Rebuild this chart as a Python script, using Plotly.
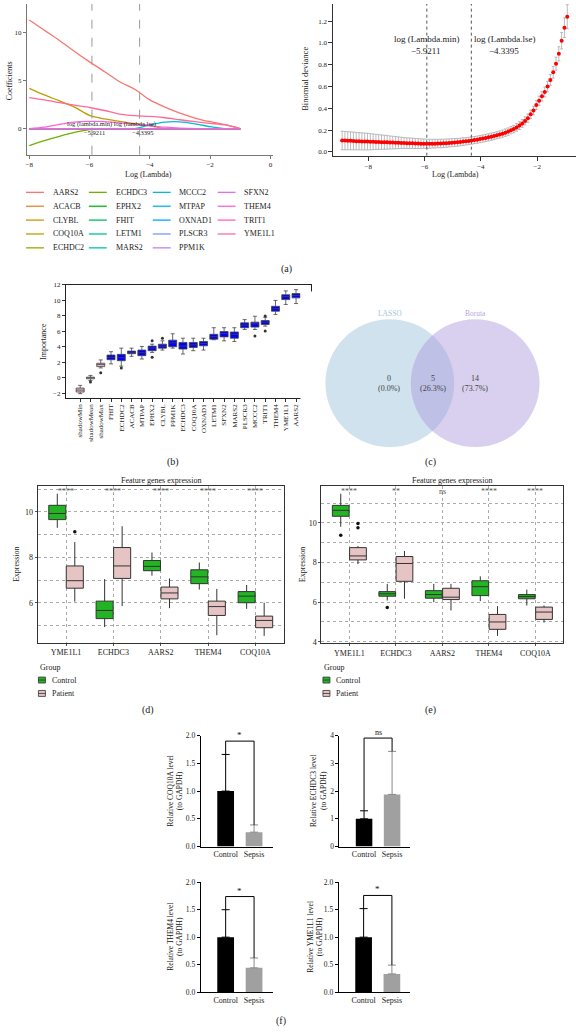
import math
import plotly.graph_objects as go

W, H = 576, 1033
FONT = "Liberation Serif"
TXT = "#222222"

# ---------------- (a) LASSO coefficient paths ----------------
genes = ["AARS2", "ACACB", "CLYBL", "COQ10A", "ECHDC2", "ECHDC3", "EPHX2", "FHIT",
         "LETM1", "MARS2", "MCCC2", "MTPAP", "OXNAD1", "PLSCR3", "PPM1K", "SFXN2",
         "THEM4", "TRIT1", "YME1L1"]
path_loglambda = [-8.0, -7.5, -7.0, -6.5, -6.0, -5.5, -5.0, -4.5, -4.0, -3.5, -3.0, -2.5, -2.0, -1.5, -1.0]
coef_AARS2 = [11.27, 10.20, 9.14, 8.00, 6.92, 5.90, 4.86, 4.08, 2.98, 2.23, 1.61, 1.10, 0.72, 0.41, 0.00]
coef_COQ10A = [4.18, 3.49, 2.88, 2.23, 1.37, 1.00, 0.75, 0.51, 0.31, 0.00, 0.00, 0.00, 0.00, 0.00, 0.00]
coef_YME1L1 = [3.22, 2.98, 2.70, 2.43, 2.19, 1.88, 1.50, 1.34, 1.27, 1.13, 0.92, 0.72, 0.55, 0.38, 0.00]
coef_ECHDC3 = [-1.75, -1.25, -0.80, -0.40, -0.10, 0.00, 0.00, 0.00, 0.00, 0.00, 0.00, 0.00, 0.00, 0.00, 0.00]
coef_THEM4 = [0.00, 0.15, 0.45, 0.68, 0.75, 0.72, 0.60, 0.45, 0.30, 0.15, 0.05, 0.00, 0.00, 0.00, 0.00]
coef_MCCC2 = [0.00, 0.00, 0.00, 0.00, 0.00, 0.00, 0.00, 0.00, 0.40, 0.68, 0.70, 0.50, 0.20, 0.00, 0.00]
coef_zero = [0.00, 0.00, 0.00, 0.00, 0.00, 0.00, 0.00, 0.00, 0.00, 0.00, 0.00, 0.00, 0.00, 0.00, 0.00]
log_lambda_min = -5.9211
log_lambda_1se = -4.3395

# ---------------- (a) cross-validation curve ----------------
cv_loglambda = [-8.93, -8.83, -8.73, -8.63, -8.53, -8.43, -8.33, -8.23, -8.13, -8.03,
                -7.93, -7.83, -7.73, -7.63, -7.53, -7.43, -7.33, -7.23, -7.13, -7.03,
                -6.93, -6.83, -6.73, -6.63, -6.53, -6.43, -6.33, -6.23, -6.13, -6.03,
                -5.93, -5.83, -5.73, -5.63, -5.53, -5.43, -5.33, -5.23, -5.13, -5.03,
                -4.93, -4.83, -4.73, -4.63, -4.53, -4.43, -4.33, -4.23, -4.13, -4.03,
                -3.93, -3.83, -3.73, -3.63, -3.53, -3.43, -3.33, -3.23, -3.13, -3.03,
                -2.93, -2.83, -2.73, -2.63, -2.53, -2.43, -2.33, -2.23, -2.13, -2.03,
                -1.93, -1.83, -1.73, -1.63, -1.53, -1.43, -1.33, -1.23, -1.13, -1.03, -0.93]
cv_deviance = [0.105, 0.104, 0.103, 0.102, 0.101, 0.099, 0.098, 0.097, 0.096, 0.095,
               0.094, 0.093, 0.092, 0.091, 0.090, 0.089, 0.088, 0.087, 0.086, 0.085,
               0.084, 0.083, 0.082, 0.081, 0.080, 0.079, 0.078, 0.077, 0.076, 0.076,
               0.075, 0.075, 0.076, 0.076, 0.077, 0.078, 0.079, 0.081, 0.083, 0.085,
               0.087, 0.089, 0.092, 0.095, 0.098, 0.101, 0.105, 0.109, 0.113, 0.118,
               0.123, 0.128, 0.134, 0.140, 0.146, 0.153, 0.160, 0.168, 0.177, 0.187,
               0.200, 0.210, 0.225, 0.242, 0.262, 0.285, 0.310, 0.345, 0.380, 0.430,
               0.470, 0.510, 0.550, 0.600, 0.660, 0.730, 0.810, 0.900, 1.020, 1.140, 1.240]
cv_se = [0.085, 0.084, 0.083, 0.082, 0.081, 0.080, 0.079, 0.078, 0.077, 0.076,
         0.074, 0.072, 0.070, 0.068, 0.066, 0.064, 0.062, 0.060, 0.058, 0.056,
         0.054, 0.052, 0.050, 0.049, 0.048, 0.047, 0.046, 0.045, 0.044, 0.043,
         0.042, 0.041, 0.040, 0.040, 0.039, 0.039, 0.038, 0.038, 0.037, 0.037,
         0.036, 0.036, 0.035, 0.035, 0.034, 0.034, 0.034, 0.033, 0.033, 0.033,
         0.033, 0.033, 0.033, 0.033, 0.033, 0.033, 0.033, 0.033, 0.034, 0.034,
         0.034, 0.035, 0.035, 0.036, 0.036, 0.037, 0.038, 0.039, 0.040, 0.041,
         0.042, 0.044, 0.046, 0.048, 0.050, 0.053, 0.060, 0.065, 0.075, 0.090, 0.110]

# ---------------- (b) Boruta importance ----------------
boruta_features = ["shadowMin", "shadowMean", "shadowMax", "FHIT", "ECHDC2", "ACACB", "MTPAP",
                   "EPHX2", "CLYBL", "PPM1K", "ECHDC3", "COQ10A", "OXNAD1", "LETM1", "SFXN2",
                   "MARS2", "PLSCR3", "MCCC2", "TRIT1", "THEM4", "YME1L1", "AARS2"]
boruta_shadow = [True, True, True] + [False] * 19
boruta_q1 = [-1.84, -0.13, 1.44, 2.33, 2.20, 3.10, 2.85, 3.49, 3.82, 4.00, 3.70, 3.91, 4.12,
             4.97, 5.27, 5.10, 6.45, 6.53, 6.87, 8.58, 10.08, 10.30]
boruta_median = [-1.59, 0.00, 1.70, 2.63, 2.59, 3.27, 3.23, 3.83, 4.08, 4.51, 4.08, 4.25, 4.42,
                 5.30, 5.69, 5.60, 6.80, 6.96, 7.17, 8.90, 10.46, 10.60]
boruta_q3 = [-1.33, 0.08, 1.87, 2.93, 3.02, 3.44, 3.57, 4.08, 4.33, 4.85, 4.55, 4.55, 4.68,
             5.60, 5.95, 5.90, 7.08, 7.17, 7.38, 9.21, 10.70, 10.85]
boruta_low = [-2.05, -0.35, 1.27, 1.79, 1.50, 2.76, 2.42, 3.27, 3.57, 3.82, 3.06, 3.49, 3.57,
              4.90, 4.76, 4.68, 6.23, 6.23, 6.66, 8.17, 9.45, 9.57]
boruta_high = [-0.98, 0.30, 2.30, 3.36, 3.82, 3.82, 4.04, 4.33, 4.76, 5.67, 5.10, 5.10, 5.10,
               6.45, 6.45, 6.45, 7.50, 7.93, 7.80, 9.97, 11.20, 11.36]
boruta_out_feature = ["shadowMean", "shadowMax", "ECHDC2", "EPHX2", "EPHX2", "CLYBL", "MCCC2", "TRIT1", "TRIT1"]
boruta_out_value = [-0.56, 0.63, 1.27, 4.76, 2.63, 5.10, 5.40, 6.04, 7.95]

# ---------------- (c) Venn ----------------
venn_sets = ["LASSO", "Boruta"]
venn_counts = [0, 5, 14]   # LASSO only, both, Boruta only

# ---------------- (d) / (e) expression boxplots ----------------
expr_genes = ["YME1L1", "ECHDC3", "AARS2", "THEM4", "COQ10A"]
d_ctrl_q1 = [9.66, 5.30, 7.41, 6.84, 6.00]
d_ctrl_med = [9.93, 5.66, 7.60, 7.14, 6.29]
d_ctrl_q3 = [10.29, 6.07, 7.86, 7.45, 6.49]
d_ctrl_lo = [9.30, 4.93, 7.19, 6.58, 5.73]
d_ctrl_hi = [10.80, 7.04, 8.21, 7.77, 6.78]
d_pat_q1 = [6.64, 7.07, 6.17, 5.44, 4.90]
d_pat_med = [6.97, 7.62, 6.43, 5.83, 5.22]
d_pat_q3 = [7.62, 8.43, 6.69, 6.07, 5.41]
d_pat_lo = [6.05, 5.85, 5.76, 4.57, 4.54]
d_pat_hi = [8.67, 9.37, 7.07, 6.61, 6.00]
d_out_gene = ["YME1L1"]
d_out_group = ["Patient"]
d_out_value = [9.13]
d_signif = ["****", "****", "****", "****", "****"]

e_ctrl_q1 = [10.33, 6.30, 6.20, 6.33, 6.17]
e_ctrl_med = [10.63, 6.42, 6.38, 6.78, 6.28]
e_ctrl_q3 = [10.88, 6.53, 6.58, 7.08, 6.38]
e_ctrl_lo = [9.80, 6.08, 6.00, 6.05, 5.83]
e_ctrl_hi = [11.47, 6.92, 6.92, 7.30, 6.63]
e_pat_q1 = [8.13, 7.05, 6.13, 4.63, 5.13]
e_pat_med = [8.33, 7.95, 6.25, 5.00, 5.50]
e_pat_q3 = [8.75, 8.30, 6.70, 5.38, 5.75]
e_pat_lo = [7.92, 6.17, 5.58, 4.30, 4.97]
e_pat_hi = [8.83, 8.58, 6.92, 5.80, 5.83]
e_out_gene = ["YME1L1", "YME1L1", "YME1L1", "ECHDC3"]
e_out_group = ["Control", "Patient", "Patient", "Control"]
e_out_value = [9.37, 9.97, 9.75, 5.73]
e_signif = ["****", "**", "ns", "****", "****"]

# ---------------- (f) qPCR ----------------
qpcr_genes = ["COQ10A", "ECHDC3", "THEM4", "YME1L1"]
qpcr_groups = ["Control", "Sepsis"]
qpcr_ctrl_mean = [1.00, 1.00, 1.00, 1.00]
qpcr_ctrl_sd = [0.66, 0.29, 0.50, 0.52]
qpcr_sep_mean = [0.26, 1.88, 0.44, 0.33]
qpcr_sep_sd = [0.13, 1.55, 0.18, 0.16]
qpcr_signif = ["*", "ns", "*", "*"]
qpcr_ymax = [2.0, 4.0, 2.0, 2.0]
qpcr_dtick = [0.5, 1.0, 0.5, 0.5]


# ============================================================
def hcl_hex(h, c=100.0, l=65.0):
    hr = math.radians(h)
    u, v = c * math.cos(hr), c * math.sin(hr)
    Xn, Yn, Zn = 0.95047, 1.0, 1.08883
    Y = Yn * ((l + 16) / 116) ** 3
    den = Xn + 15 * Yn + 3 * Zn
    un, vn = 4 * Xn / den, 9 * Yn / den
    up, vp = u / (13 * l) + un, v / (13 * l) + vn
    X = Y * 9 * up / (4 * vp)
    Z = Y * (12 - 3 * up - 20 * vp) / (4 * vp)
    r = 3.2404542 * X - 1.5371385 * Y - 0.4985314 * Z
    g = -0.9692660 * X + 1.8760108 * Y + 0.0415560 * Z
    b = 0.0556434 * X - 0.2040259 * Y + 1.0572252 * Z
    out = []
    for ch in (r, g, b):
        ch = 1.055 * ch ** (1 / 2.4) - 0.055 if ch > 0.0031308 else 12.92 * ch
        out.append(int(round(min(max(ch, 0), 1) * 255)))
    return "#%02X%02X%02X" % tuple(out)


n = len(genes)
gene_colors = [hcl_hex(15 + 360 * i / n) for i in range(n)]
coef_by_gene = {g: coef_zero for g in genes}
coef_by_gene.update({"AARS2": coef_AARS2, "COQ10A": coef_COQ10A, "YME1L1": coef_YME1L1,
                     "ECHDC3": coef_ECHDC3, "THEM4": coef_THEM4, "MCCC2": coef_MCCC2})


def px_x(x):
    return x / W


def px_y(y):
    return 1 - y / H


def dom_x(a, b):
    return [a / W, b / W]


def dom_y(top, bottom):
    return [1 - bottom / H, 1 - top / H]


def ann(text, x, y, size, xanchor="center", yanchor="middle", angle=0, color=TXT, **kw):
    d = dict(text=text, x=px_x(x), y=px_y(y), xref="paper", yref="paper", showarrow=False,
             font=dict(family=FONT, size=size, color=color), xanchor=xanchor, yanchor=yanchor,
             textangle=angle)
    d.update(kw)
    return d


def axis(domain, rng, anchor, size=7, **kw):
    base = dict(domain=domain, range=rng, anchor=anchor, showgrid=False, zeroline=False,
                tickfont=dict(family=FONT, size=size, color=TXT), ticks="outside", ticklen=3,
                tickwidth=1, linewidth=1, showline=True, linecolor="#333", tickcolor="#333")
    base.update(kw)
    return base


fig = go.Figure()
annotations = []
shapes = []
layout = {}

# ---------------- (a) left: coefficient paths ----------------
for g, col in zip(genes, gene_colors):
    fig.add_trace(go.Scatter(x=path_loglambda, y=coef_by_gene[g], mode="lines",
                             line=dict(color=col, width=1.3, shape="spline", smoothing=0.8),
                             xaxis="x", yaxis="y", name=g))
layout["xaxis"] = axis(dom_x(26, 272), [-8.077, 0.07], "y", tickvals=[-8, -6, -4, -2, 0],
                       linecolor="#777", tickcolor="#777")
layout["yaxis"] = axis(dom_y(0, 152), [-2.70, 12.92], "x", tickvals=[0, 5, 10],
                       linecolor="#777", tickcolor="#777")
for v in (log_lambda_min, log_lambda_1se):
    shapes.append(dict(type="line", xref="x", yref="y domain", x0=v, x1=v, y0=0, y1=1,
                       line=dict(color="#999", width=1, dash="dash")))
annotations.append(dict(text="log (lambda.min) log (lambda.lse)", x=(log_lambda_min + log_lambda_1se) / 2 - 0.15,
                        y=0.45, xref="x", yref="y", showarrow=False,
                        font=dict(family=FONT, size=6.5, color=TXT)))
annotations.append(dict(text=("%.4f" % log_lambda_min).replace("-", "\u2212"), x=log_lambda_min + 0.1,
                        y=-0.35, xref="x", yref="y", showarrow=False,
                        font=dict(family=FONT, size=6.5, color=TXT)))
annotations.append(dict(text=("%.4f" % log_lambda_1se).replace("-", "\u2212"), x=log_lambda_1se + 0.12,
                        y=-0.35, xref="x", yref="y", showarrow=False,
                        font=dict(family=FONT, size=6.5, color=TXT)))
annotations.append(ann("Coefficients", 8, 77, 8, angle=-90))
annotations.append(ann("Log (Lambda)", 148, 172, 8))

# legend of genes
col_line_x = [25, 88, 152, 217]
col_text_x = [50, 113, 176, 241]
row_y = [190, 204, 218, 232, 246]
for i, (g, col) in enumerate(zip(genes, gene_colors)):
    c, r = i // 5, i % 5
    shapes.append(dict(type="line", xref="paper", yref="paper",
                       x0=px_x(col_line_x[c]), x1=px_x(col_line_x[c] + 18),
                       y0=px_y(row_y[r]), y1=px_y(row_y[r]), line=dict(color=col, width=1.3)))
    annotations.append(ann(g, col_text_x[c], row_y[r], 8, xanchor="left"))
annotations.append(ann("(a)", 286, 267, 10))

# ---------------- (a) right: CV deviance ----------------
fig.add_trace(go.Scatter(x=cv_loglambda, y=cv_deviance, mode="markers",
                         marker=dict(color="#FF0000", size=4),
                         error_y=dict(type="data", array=cv_se, color="#AAAAAA", thickness=0.8, width=1.5),
                         xaxis="x2", yaxis="y2"))
layout["xaxis2"] = axis(dom_x(333, 576), [-9.24, -0.62], "y2", tickvals=[-8, -6, -4, -2], ticklen=4)
layout["yaxis2"] = axis(dom_y(0, 153), [-0.034, 1.357], "x2", tickvals=[0, 0.2, 0.4, 0.6, 0.8, 1.0, 1.2],
                        tickformat=".1f", ticklen=4)
for v in (log_lambda_min, log_lambda_1se):
    shapes.append(dict(type="line", xref="x2", yref="y2 domain", x0=v, x1=v, y0=0, y1=1,
                       line=dict(color="#555", width=1, dash="dot")))
annotations.append(ann("log (Lambda.min)", 426, 35, 9))
annotations.append(ann(("%.4f" % log_lambda_min).replace("-", "\u2212"), 426, 47, 9))
annotations.append(ann("log (Lambda.lse)", 504, 35, 9))
annotations.append(ann(("%.4f" % log_lambda_1se).replace("-", "\u2212"), 504, 47, 9))
annotations.append(ann("Binomial deviance", 305, 75, 8.5, angle=-90))
annotations.append(ann("Log (Lambda)", 455, 172, 8))

# ---------------- (b) Boruta ----------------
bx = list(range(len(boruta_features)))
for shadow_flag, fill in ((True, "#E6B8C0"), (False, "#0000FF")):
    idx = [i for i in bx if boruta_shadow[i] == shadow_flag]
    fig.add_trace(go.Box(x=idx, q1=[boruta_q1[i] for i in idx], median=[boruta_median[i] for i in idx],
                         q3=[boruta_q3[i] for i in idx], lowerfence=[boruta_low[i] for i in idx],
                         upperfence=[boruta_high[i] for i in idx], width=0.78, whiskerwidth=0.5,
                         fillcolor=fill, line=dict(color="#444", width=0.8), boxpoints=False,
                         xaxis="x3", yaxis="y3"))
fig.add_trace(go.Scatter(x=[boruta_features.index(f) for f in boruta_out_feature], y=boruta_out_value,
                         mode="markers", marker=dict(color="#333", size=3), xaxis="x3", yaxis="y3"))
layout["xaxis3"] = axis(dom_x(65, 311), [-1.39, 22.5], "y3", tickvals=bx, ticktext=boruta_features,
                        tickangle=-90, mirror=True, linecolor="#222")
layout["yaxis3"] = axis(dom_y(283, 397), [-2.55, 12.02], "x3", tickvals=[-2, 0, 2, 4, 6, 8, 10, 12],
                        mirror=True, linecolor="#222")
annotations.append(ann("Importance", 42, 340, 8, angle=-90))
annotations.append(ann("(b)", 172, 462, 10))

# ---------------- (c) Venn ----------------
layout["xaxis4"] = dict(domain=dom_x(300, 576), range=[300, 576], visible=False, anchor="y4")
layout["yaxis4"] = dict(domain=dom_y(290, 470), range=[470, 290], visible=False, anchor="x4")
r = 64.5
cl, cr, cy = 389.5, 475.0, 382.5
shapes.append(dict(type="circle", xref="x4", yref="y4", x0=cl - r, x1=cl + r, y0=cy - r, y1=cy + r,
                   fillcolor="#D0E2ED", line=dict(width=0), layer="below"))
shapes.append(dict(type="circle", xref="x4", yref="y4", x0=cr - r, x1=cr + r, y0=cy - r, y1=cy + r,
                   fillcolor="rgba(170,150,220,0.45)", line=dict(width=0), layer="below"))
total = sum(venn_counts)
for xc, cnt in zip([389, 432.7, 475], venn_counts):
    annotations.append(dict(text="%d<br>(%.1f%%)" % (cnt, 100 * cnt / total), x=xc, y=383, xref="x4",
                            yref="y4", showarrow=False, font=dict(family=FONT, size=8, color="#444")))
annotations.append(dict(text=venn_sets[0], x=cl, y=312.5, xref="x4", yref="y4", showarrow=False,
                        font=dict(family=FONT, size=7.5, color="#A3C4DC")))
annotations.append(dict(text=venn_sets[1], x=cr, y=312.5, xref="x4", yref="y4", showarrow=False,
                        font=dict(family=FONT, size=7.5, color="#BBA6DC")))
annotations.append(ann("(c)", 430, 462, 10))

# ---------------- (d) & (e) boxplots ----------------
GREEN, PINK = "#22B422", "#E7C4C4"
OFF, BW = 0.185, 0.36


def expr_panel(ax, ay, stats_c, stats_p, out_gene, out_group, out_value, signif, sig_y):
    pos = list(range(1, len(expr_genes) + 1))
    for stats, off, fill in ((stats_c, -OFF, GREEN), (stats_p, OFF, PINK)):
        q1, med, q3, lo, hi = stats
        fig.add_trace(go.Box(x=[p + off for p in pos], q1=q1, median=med, q3=q3, lowerfence=lo,
                             upperfence=hi, width=BW, whiskerwidth=0, fillcolor=fill,
                             line=dict(color="#333", width=1), boxpoints=False,
                             xaxis="x" + ax, yaxis="y" + ay))
    ox = [expr_genes.index(g) + 1 + (-OFF if grp == "Control" else OFF) for g, grp in zip(out_gene, out_group)]
    fig.add_trace(go.Scatter(x=ox, y=out_value, mode="markers", marker=dict(color="#111", size=3.5),
                             xaxis="x" + ax, yaxis="y" + ay))
    for p, s in zip(pos, signif):
        annotations.append(dict(text=s, x=p, y=sig_y, xref="x" + ax, yref="y" + ay, showarrow=False,
                                font=dict(family=FONT, size=8, color="#555")))


expr_panel("5", "5", (d_ctrl_q1, d_ctrl_med, d_ctrl_q3, d_ctrl_lo, d_ctrl_hi),
           (d_pat_q1, d_pat_med, d_pat_q3, d_pat_lo, d_pat_hi), d_out_gene, d_out_group, d_out_value,
           d_signif, 10.88)
expr_panel("6", "6", (e_ctrl_q1, e_ctrl_med, e_ctrl_q3, e_ctrl_lo, e_ctrl_hi),
           (e_pat_q1, e_pat_med, e_pat_q3, e_pat_lo, e_pat_hi), e_out_gene, e_out_group, e_out_value,
           e_signif, 11.56)

GRIDC = "#ABABAB"
grid_common = dict(showgrid=True, gridcolor=GRIDC, griddash="dot", gridwidth=1, mirror=True,
                   linecolor="#333", ticklen=2, tickcolor="#555")
minor_grid = dict(dtick=1, tick0=0, showgrid=True, gridcolor=GRIDC, griddash="dot", gridwidth=1, ticks="")
layout["xaxis5"] = axis(dom_x(36.7, 283.3), [0.4, 5.6], "y5", size=8, tickvals=[1, 2, 3, 4, 5],
                        ticktext=expr_genes, **grid_common)
layout["yaxis5"] = axis(dom_y(486.7, 644.3), [4.24, 11.12], "x5", size=8, tickvals=[6, 8, 10],
                        minor=minor_grid, **grid_common)
layout["xaxis6"] = axis(dom_x(321, 563.3), [0.4, 5.6], "y6", size=8, tickvals=[1, 2, 3, 4, 5],
                        ticktext=expr_genes, **grid_common)
layout["yaxis6"] = axis(dom_y(486, 645), [3.92, 11.87], "x6", size=8, tickvals=[4, 6, 8, 10],
                        minor=minor_grid, **grid_common)
for cx, ex in ((160, 15), (452, 301.7)):
    annotations.append(ann("Feature genes expression", cx, 480.5, 8))
    annotations.append(ann("Expression", ex, 565, 8, angle=-90))

# group legends
for lx in (37, 322):
    annotations.append(ann("Group", lx, 669, 8, xanchor="left"))
    for k, (lab, fill) in enumerate((("Control", GREEN), ("Patient", PINK))):
        yy = 682 + 13.5 * k
        shapes.append(dict(type="rect", xref="paper", yref="paper", x0=px_x(lx + 0.5), x1=px_x(lx + 7.5),
                           y0=px_y(yy - 3), y1=px_y(yy + 3), fillcolor=fill, line=dict(color="#333", width=0.8)))
        shapes.append(dict(type="line", xref="paper", yref="paper", x0=px_x(lx + 0.5), x1=px_x(lx + 7.5),
                           y0=px_y(yy), y1=px_y(yy), line=dict(color="#333", width=0.8)))
        annotations.append(ann(lab, lx + 12, yy, 8, xanchor="left"))
annotations.append(ann("(d)", 147, 712, 10))
annotations.append(ann("(e)", 430, 712, 10))

# ---------------- (f) qPCR bars ----------------
f_dom = [((200, 272), (738, 850)), ((339, 410), (738, 850)),
         ((200, 272), (886, 996.7)), ((338.3, 410), (886, 996.7))]
f_ylab_x = [174, 317.5, 174, 314.2]
for k, gname in enumerate(qpcr_genes):
    ax = str(7 + k)
    for j, (mean, sd, col) in enumerate(((qpcr_ctrl_mean[k], qpcr_ctrl_sd[k], "#000000"),
                                         (qpcr_sep_mean[k], qpcr_sep_sd[k], "#A0A0A0"))):
        fig.add_trace(go.Bar(x=[j], y=[mean], width=0.59, marker=dict(color=col, line=dict(width=0)),
                             error_y=dict(type="data", array=[sd], arrayminus=[0], symmetric=False,
                                          color="#000000" if j == 0 else "#8A8A8A", thickness=1, width=4),
                             xaxis="x" + ax, yaxis="y" + ax))
    top0 = qpcr_ctrl_mean[k] + qpcr_ctrl_sd[k]
    top1 = qpcr_sep_mean[k] + qpcr_sep_sd[k]
    yb = max(top0, top1) + 0.12 * qpcr_ymax[k]
    shapes.append(dict(type="path", xref="x" + ax, yref="y" + ax,
                       path="M 0,%f L 0,%f L 1,%f L 1,%f" % (top0, yb, yb, top1),
                       line=dict(color="#000", width=1)))
    annotations.append(dict(text=qpcr_signif[k], x=0.5, y=yb, xref="x" + ax, yref="y" + ax, showarrow=False,
                            yanchor="bottom", yshift=-1,
                            font=dict(family=FONT, size=8 if qpcr_signif[k] == "ns" else 9, color="#111111")))
    (xa, xb), (yt, ybt) = f_dom[k]
    layout["xaxis" + ax] = axis(dom_x(xa, xb), [-0.88, 1.65], "y" + ax, size=8, tickvals=[0, 1],
                                ticktext=qpcr_groups, ticks="", linecolor="#000")
    layout["yaxis" + ax] = axis(dom_y(yt, ybt), [0, qpcr_ymax[k]], "x" + ax, size=7.5,
                                dtick=qpcr_dtick[k], tick0=0,
                                tickformat=".1f" if qpcr_dtick[k] < 1 else "d", linecolor="#000",
                                tickcolor="#000")
    annotations.append(ann("Relative %s level<br>(to GAPDH)" % gname, f_ylab_x[k], (yt + ybt) / 2, 7.5,
                           angle=-90, color="#111111"))
annotations.append(ann("(f)", 280, 1026, 10))

fig.update_layout(width=W, height=H, margin=dict(l=0, r=0, t=0, b=0), showlegend=False,
                  paper_bgcolor="white", plot_bgcolor="white", boxmode="overlay", barmode="overlay",
                  annotations=annotations, shapes=shapes, font=dict(family=FONT, color=TXT), **layout)
fig.write_html("out.html")
